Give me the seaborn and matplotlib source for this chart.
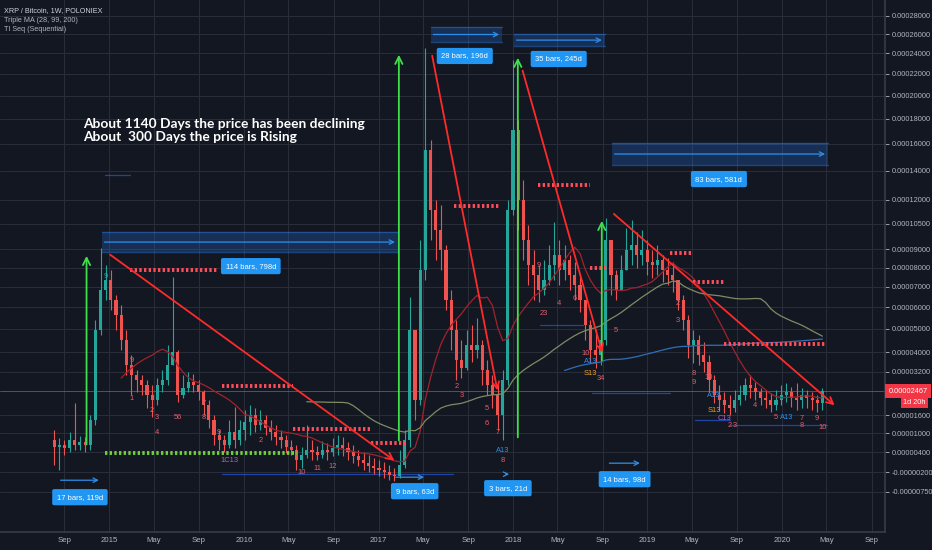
import numpy as np
import pandas as pd
import matplotlib
matplotlib.use('Agg')
import matplotlib.pyplot as plt
import matplotlib.dates as mdates
import matplotlib.transforms as mtransforms
import seaborn as sns

# weekly XRP/BTC candles, sampled every 2 weeks, prices in satoshi
first_date = '2014-08-04'
first_open = 777
close = [555, 618, 524, 777, 618, 713, 618, 1437, 4944, 6831,
         7339, 6338, 5625, 4507, 3468, 3073, 2880, 2690, 2319, 2137,
         2690, 2880, 3468, 3999, 2319, 2578, 2804, 2690, 2430, 1958,
         1437, 938, 777, 618, 1036, 777, 1102, 1369, 1608, 1268,
         1437, 1168, 1036, 874, 777, 555, 461, 155, 307, 461,
         399, 307, 461, 399, 524, 618, 524, 399, 277, 155,
         65, -25, -84, -143, -201, -288, -317, 5, 777, 4944,
         2137, 7862, 15518, 11349, 10117, 8956, 6338, 4944, 3669, 3349,
         4293, 4082, 4293, 3269, 2690, 2319, 1608, 2880, 11349, 17081,
         11994, 9528, 8129, 7598, 6831, 7339, 8129, 8676, 7862, 8401,
         7598, 7083, 6338, 5168, 4082, 3874, 4507, 9528, 7598, 6831,
         7862, 8956, 9240, 8676, 8956, 8292, 8129, 8401, 7862, 7598,
         7339, 6338, 5395, 4293, 4507, 3874, 3588, 2880, 2319, 2137,
         1958, 1852, 2137, 2319, 2690, 2578, 2430, 2210, 2137, 1958,
         2137, 2319, 2430, 2210, 2137, 2319, 2210, 2137, 2030, 2467]
high = [1102, 841, 777, 1036, 2030, 906, 874, 1608, 5395, 9070,
        8129, 7862, 6583, 6097, 4944, 3874, 3269, 3073, 2880, 2690,
        2957, 3269, 4293, 7494, 4082, 3073, 3191, 3112, 2880, 2503,
        2137, 1608, 1102, 938, 1437, 1888, 1437, 1782, 1958, 1852,
        1782, 1608, 1437, 1268, 1102, 938, 777, 618, 555, 1268,
        777, 586, 745, 682, 841, 938, 874, 713, 618, 461,
        399, 307, 216, 155, 95, 5, -84, 461, 1102, 6485,
        4944, 9528, 24557, 16288, 11994, 11669, 9240, 6831, 5395, 4507,
        4944, 5168, 5487, 4507, 3669, 3073, 2690, 3269, 11994, 23345,
        17898, 13341, 10418, 8956, 8129, 8401, 9240, 10602, 9528, 9240,
        8676, 8292, 7598, 6338, 5395, 4944, 5168, 10848, 9528, 7862,
        8676, 10237, 10724, 9998, 10117, 9528, 8956, 9240, 8676, 8511,
        8292, 7339, 6583, 5625, 4944, 4724, 4421, 3874, 3073, 2690,
        2430, 2319, 2503, 2690, 2957, 3073, 2804, 2578, 2503, 2393,
        2503, 2690, 2766, 2615, 2766, 2578, 2503, 2430, 2319, 2578]
low = [5, -143, 307, 399, 461, 461, 399, 461, 1268, 4724,
       6338, 5859, 4944, 4082, 3073, 2319, 2430, 2319, 1852, 1540,
       1958, 2430, 2690, 3468, 2065, 2210, 2430, 2430, 2137, 1608,
       1168, 618, 461, 399, 524, 524, 618, 777, 938, 1036,
       1102, 938, 777, 618, 524, 368, 307, -143, -84, 216,
       155, 155, 216, 155, 277, 307, 277, 155, 65, -25,
       -143, -201, -259, -317, -374, -432, -460, -374, -84, 555,
       1437, 1958, 7339, 9528, 8401, 7862, 5859, 4082, 2880, 2957,
       3269, 3588, 3751, 2690, 2319, 1852, 1102, 777, 2690, 11034,
       10117, 8401, 7083, 6338, 6241, 6583, 7083, 7339, 7083, 7339,
       6831, 6338, 5765, 4507, 3588, 3349, 3468, 4293, 6583, 6338,
       6831, 7862, 8129, 7969, 8129, 7598, 7443, 7598, 7237, 7083,
       6732, 5859, 4944, 3751, 3548, 3468, 3191, 2430, 2030, 1782,
       1678, 1608, 1712, 1958, 2137, 2210, 2137, 1958, 1852, 1712,
       1782, 1958, 2065, 1888, 1782, 1852, 1852, 1782, 1712, 1782]
last_price = 2467

# axis ticks
ytick_vals = [28000, 26000, 24000, 22000, 20000, 18000, 16000, 14000, 12000, 10500,
              9000, 8000, 7000, 6000, 5000, 4000, 3200, 1600, 1000, 400, -200, -750]
xtick_dates = ['2014-09-01', '2015-01-01', '2015-05-01', '2015-09-01', '2016-01-01',
               '2016-05-01', '2016-09-01', '2017-01-01', '2017-05-01', '2017-09-01',
               '2018-01-01', '2018-05-01', '2018-09-01', '2019-01-01', '2019-05-01',
               '2019-09-01', '2020-01-01', '2020-05-01', '2020-09-01']
xtick_labels = ['Sep', '2015', 'May', 'Sep', '2016', 'May', 'Sep', '2017', 'May', 'Sep',
                '2018', 'May', 'Sep', '2019', 'May', 'Sep', '2020', 'May', 'Sep']

# green "rise" arrows
g_dates = ['2014-10-31', '2017-02-25', '2018-01-14', '2018-08-30']
g_from = [555, 682, 777, 3548]
g_to = [8788, 24148, 23844, 10848]

# red falling trend lines
t_start = ['2014-12-28', '2017-05-25', '2018-01-25', '2018-09-26']
t_start_p = [8788, 24047, 22562, 11223]
t_end = ['2017-02-19', '2017-11-21', '2018-09-02', '2020-05-29']
t_end_p = [95, 2393, 3874, 1888]

# date range boxes (top)
r_start = ['2014-12-11', '2017-05-22', '2018-01-03', '2018-09-26']
r_end = ['2017-02-22', '2017-12-02', '2018-09-07', '2020-05-05']
r_low = [8844, 25175, 24762, 14405]
r_high = [9998, 26778, 25993, 16055]
r_labels = ['114 bars, 798d', '28 bars, 196d', '35 bars, 245d', '83 bars, 581d']
r_label_dates = ['2016-01-20', '2017-08-23', '2018-05-05', '2019-07-14']
r_label_p = [8075, 23743, 23444, 13410]

# date ranges (bottom)
b_start = ['2014-08-14', '2017-02-09', '2017-12-04', '2018-09-12']
b_end = ['2014-12-11', '2017-05-12', '2017-12-29', '2018-12-19']
b_price = [-432, -345, -259, 65]
b_labels = ['17 bars, 119d', '9 bars, 63d', '3 bars, 21d', '14 bars, 98d']
b_label_dates = ['2014-10-13', '2017-04-09', '2017-12-18', '2018-10-31']
b_label_p = [-902, -738, -655, -403]

# TD sequential levels
lv_start = ['2015-02-25', '2015-11-02', '2016-05-13', '2016-12-11', '2017-07-24',
            '2018-03-09', '2018-07-28', '2019-03-03', '2019-05-04', '2019-07-27']
lv_end = ['2015-10-22', '2016-05-13', '2016-12-11', '2017-03-21', '2017-11-26',
          '2018-07-28', '2018-09-12', '2019-05-04', '2019-07-27', '2020-04-27']
lv_price = [7862, 2652, 1135, 682, 11604, 12997, 7969, 8787, 7237, 4335]
sup_green = ('2014-12-20', '2016-05-24', 368)
sp_start = ['2015-11-02', '2018-03-15', '2018-08-03', '2019-05-10', '2019-08-13', '2014-12-20']
sp_end = ['2017-07-21', '2018-07-10', '2019-03-03', '2019-08-13', '2020-05-02', '2015-02-25']
sp_price = [-259, 5168, 2393, 1437, 1268, 13690]

# TD count labels (bar index, price, text, colour key)
td_bars = [10, 15, 15, 19, 20, 20, 24, 29, 29, 32, 34, 40, 48, 51, 54, 78, 79, 84, 84, 86,
           87, 87, 94, 95, 98, 101, 103, 104, 104, 106, 109, 121, 121, 124, 124, 127, 128,
           128, 130, 131, 132, 136, 140, 142, 145, 145, 148, 149]
td_prices = [7546, 3669, 2210, 1782, 1540, 1036, 1540, 2030, 1540, 1036, 155, 777, -201, -84,
             -25, 2652, 2319, 1852, 1336, 1036, 155, 461, 8129, 5718, 6193, 6436, 3957, 3629,
             3151, 2957, 4944, 6193, 5395, 3151, 2804, 2996, 2319, 1782, 1505, 1268, 1268,
             1958, 1540, 1540, 1505, 1268, 1505, 1202]
td_texts = ['9', '9', '1', '2', '3', '4', '56', '7', '8', '9', '1C13', '2', '10', '11', '12',
            '2', '3', '5', '6', '7', '8', 'A13', '9', '23', '4', '6', '10', 'A13', 'S13', '34',
            '5', '2', '3', '8', '9', '10', 'A13', 'S13', 'C13', '2', '3', '4', '5', 'A13', '7',
            '8', '9', '10']
td_kind = ['g', 'r', 'r', 'r', 'r', 'r', 'r', 'r', 'r', 'r', 'p', 'r', 'r', 'r', 'r',
           'r', 'r', 'r', 'r', 'r', 'r', 'b', 'r', 'r', 'r', 'r', 'r', 'b', 'o', 'r',
           'r', 'r', 'r', 'r', 'r', 'r', 'b', 'o', 'p', 'r', 'r', 'r', 'r', 'b', 'r',
           'r', 'r', 'r']
td_colors = {'g': '#26a69a', 'r': '#e0606e', 'b': '#2f8fe8', 'o': '#f0a020', 'p': '#b45fd0'}

BG = '#131722'
GRID = '#2a2e3a'
TXT = '#b2b5be'

sns.set_theme(style='darkgrid', rc={'axes.facecolor': BG, 'figure.facecolor': BG,
                                    'grid.color': GRID, 'axes.edgecolor': '#363a45',
                                    'text.color': TXT, 'xtick.color': TXT, 'ytick.color': TXT})
plt.rcParams['font.family'] = ['Liberation Sans', 'DejaVu Sans']


def dn(s):
    return mdates.date2num(pd.to_datetime(s))


fig = plt.figure(figsize=(9.32, 5.5), dpi=100)
ax = fig.add_axes([0, 18 / 550, 885 / 932, 532 / 550])
ax.set_yscale('function', functions=(lambda v: np.log10(np.clip(np.asarray(v, float) + 10000, 1e-6, None)),
                                     lambda v: 10 ** np.asarray(v, float) - 10000))

x = mdates.date2num(pd.date_range(first_date, periods=len(close), freq='14D'))
opens = [first_open] + close[:-1]
up = np.array(close) >= np.array(opens)
cols = np.where(up, '#26a69a', '#ef5350')
ax.vlines(x, low, high, colors=cols, lw=0.8, zorder=3)
ax.bar(x, np.array(close) - np.array(opens), bottom=opens, width=8.5, color=cols, lw=0, zorder=3)

# Triple MA (28, 99, 200 weeks -> 14, 50, 100 two-week bars)
cs = pd.Series(close, dtype=float)
for win, col in [(14, '#a3222c'), (50, '#7d8c62'), (100, '#2f6fb8')]:
    ma = cs.rolling(win).mean()
    ok = ma.notna()
    sns.lineplot(x=x[ok.values], y=ma[ok].values, ax=ax, color=col, lw=0.9, zorder=4)

ax.axhline(last_price, color='#f23645', lw=0.6, alpha=0.8, zorder=2)

# dotted TD levels
for s, e, p in zip(lv_start, lv_end, lv_price):
    ax.plot([dn(s), dn(e)], [p, p], color='#ff4d5a', lw=2.8, ls=(0, (0.6, 0.6)), zorder=5)
ax.plot([dn(sup_green[0]), dn(sup_green[1])], [sup_green[2]] * 2, color='#6fd03a',
        lw=2.8, ls=(0, (0.6, 0.6)), zorder=5)
for s, e, p in zip(sp_start, sp_end, sp_price):
    ax.plot([dn(s), dn(e)], [p, p], color='#2962ff', lw=0.9, alpha=0.6, zorder=2)

# green rise arrows
for d, a, b in zip(g_dates, g_from, g_to):
    ax.annotate('', xy=(dn(d), b), xytext=(dn(d), a),
                arrowprops=dict(arrowstyle='->', color='#3fe04a', lw=1.3, mutation_scale=13), zorder=6)

# red trend lines
for s, sp, e, ep in zip(t_start, t_start_p, t_end, t_end_p):
    ax.annotate('', xy=(dn(e), ep), xytext=(dn(s), sp),
                arrowprops=dict(arrowstyle='->', color='#ff2a2a', lw=1.3, mutation_scale=12), zorder=6)

# date range boxes
box = dict(boxstyle='round,pad=0.6,rounding_size=0.25', fc='#2196f3', ec='none')
for s, e, lo, hi, lab, ld, lp in zip(r_start, r_end, r_low, r_high, r_labels, r_label_dates, r_label_p):
    ax.fill_between([dn(s), dn(e)], lo, hi, color='#2370d8', alpha=0.28, lw=0, zorder=2)
    ax.plot([dn(s), dn(e)], [hi, hi], color='#2a7be4', lw=1, alpha=0.45, zorder=2)
    ax.plot([dn(s), dn(e)], [lo, lo], color='#2a7be4', lw=1, alpha=0.45, zorder=2)
    mid = 10 ** ((np.log10(lo + 10000) + np.log10(hi + 10000)) / 2) - 10000
    ax.annotate('', xy=(dn(e), mid), xytext=(dn(s), mid),
                arrowprops=dict(arrowstyle='->', color='#2f8fe8', lw=0.9, mutation_scale=8), zorder=3)
    ax.text(dn(ld), lp, lab, color='white', fontsize=5.5, ha='center', va='center', zorder=7, bbox=box)

for s, e, p, lab, ld, lp in zip(b_start, b_end, b_price, b_labels, b_label_dates, b_label_p):
    ax.annotate('', xy=(dn(e), p), xytext=(dn(s), p),
                arrowprops=dict(arrowstyle='->', color='#2f8fe8', lw=0.9, mutation_scale=8), zorder=3)
    ax.text(dn(ld), lp, lab, color='white', fontsize=5.5, ha='center', va='center', zorder=7, bbox=box)

# TD counts
for i, p, t, k in zip(td_bars, td_prices, td_texts, td_kind):
    ax.text(x[i], p, t, color=td_colors[k], fontsize=5.4, ha='center', va='center', zorder=6)

# axes styling
ax.set_xlim(dn('2014-03-10'), dn('2020-10-07'))
ax.set_ylim(-1796, 29849)
ax.set_xticks(dn(xtick_dates))
ax.set_xticklabels(xtick_labels)
ax.set_yticks(ytick_vals)
ax.set_yticklabels([f'{v * 1e-8:.8f}' for v in ytick_vals])
ax.yaxis.set_minor_locator(matplotlib.ticker.NullLocator())
ax.yaxis.tick_right()
ax.tick_params(axis='y', labelsize=5.3, length=3, width=0.6, pad=1.5, colors=TXT)
ax.tick_params(axis='x', labelsize=5.6, length=0, pad=3.5, colors=TXT)
ax.grid(True, color=GRID, lw=0.7)
for sp in ['top', 'left']:
    ax.spines[sp].set_visible(False)
ax.spines['right'].set_color('#363a45')
ax.spines['bottom'].set_color('#363a45')

# legend / header text
ax.text(0.0045, 0.981, 'XRP / Bitcoin, 1W, POLONIEX', transform=ax.transAxes, fontsize=5.2,
        color='#d1d4dc', va='center')
ax.text(0.0045, 0.962, 'Triple MA (28, 99, 200)', transform=ax.transAxes, fontsize=5.2,
        color=TXT, va='center')
ax.text(0.0045, 0.944, 'TI Seq (Sequential)', transform=ax.transAxes, fontsize=5.2,
        color=TXT, va='center')
ax.text(0.0938, 0.767, 'About 1140 Days the price has been declining', transform=ax.transAxes,
        fontsize=9.9, fontweight='bold', family=['Lato', 'DejaVu Sans'], color='white', va='center')
ax.text(0.0938, 0.742, 'About  300 Days the price is Rising', transform=ax.transAxes,
        fontsize=9.9, fontweight='bold', family=['Lato', 'DejaVu Sans'], color='white', va='center')

# last price tag on the price scale
tr = mtransforms.blended_transform_factory(ax.transAxes, ax.transData)
ax.text(1.004, last_price, f'{last_price * 1e-8:.8f}', transform=tr, fontsize=5.3, color='white',
        ha='left', va='center', clip_on=False, zorder=8,
        bbox=dict(boxstyle='square,pad=0.45', fc='#f23645', ec='none'))
ax.text(1.046, 2065, '1d 20h', transform=tr, fontsize=5.3, color='white', ha='right', va='center',
        clip_on=False, zorder=8, bbox=dict(boxstyle='square,pad=0.35', fc='#f23645', ec='none'))

fig.savefig('out.png', dpi=100, facecolor=BG)
